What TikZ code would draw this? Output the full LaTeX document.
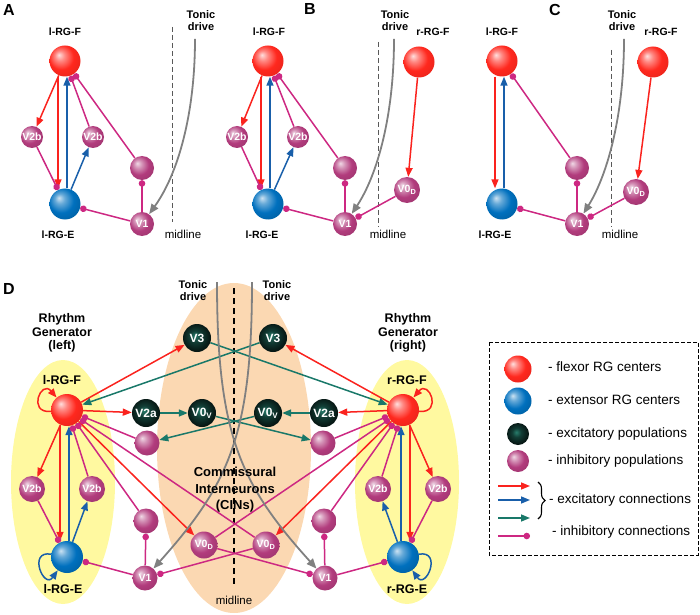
\documentclass[tikz,border=0pt]{standalone}
\usepackage{fontspec}
\setmainfont{Liberation Sans}
\usetikzlibrary{arrows.meta,decorations.pathreplacing}

\definecolor{exred}{RGB}{250,35,30}
\definecolor{exblue}{RGB}{25,95,170}
\definecolor{exgreen}{RGB}{25,120,105}
\definecolor{inhline}{RGB}{205,40,130}
\definecolor{tonicgray}{RGB}{128,128,128}
\definecolor{rgyellow}{RGB}{255,249,160}
\definecolor{cinbeige}{RGB}{251,216,178}
\definecolor{flexcol}{RGB}{255,40,30}
\definecolor{extcol}{RGB}{0,112,190}
\definecolor{inhcol}{RGB}{178,60,125}
\definecolor{exclight}{RGB}{40,125,108}
\definecolor{excmid}{RGB}{18,62,54}

\pgfdeclareradialshading{flexball}{\pgfpoint{-10bp}{10bp}}{color(0bp)=(flexcol!15!white); color(8bp)=(flexcol!55!white); color(20bp)=(flexcol); color(38bp)=(flexcol!88!black); color(50bp)=(flexcol!75!black)}
\pgfdeclareradialshading{extball}{\pgfpoint{-10bp}{10bp}}{color(0bp)=(extcol!20!white); color(8bp)=(extcol!60!white); color(20bp)=(extcol); color(38bp)=(extcol!80!black); color(50bp)=(extcol!65!black)}
\pgfdeclareradialshading{inhball}{\pgfpoint{-10bp}{10bp}}{color(0bp)=(inhcol!20!white); color(8bp)=(inhcol!55!white); color(20bp)=(inhcol); color(38bp)=(inhcol!85!black); color(50bp)=(inhcol!70!black)}
\pgfdeclareradialshading{excball}{\pgfpoint{-4bp}{4bp}}{color(0bp)=(exclight); color(10bp)=(excmid); color(24bp)=(excmid!40!black); color(50bp)=(black)}

\pgfdeclarelayer{background}
\pgfdeclarelayer{links}
\pgfsetlayers{background,links,main}

\begin{document}
\begin{tikzpicture}[x=1pt,y=1pt,>={Triangle[length=9pt,width=7pt]},
    cell/.style={circle,inner sep=0pt,minimum size=#1,text=white,font=\fontsize{10.5}{12}\selectfont\bfseries},
    flexor/.style={cell=31pt,shading=flexball},
    extensor/.style={cell=31pt,shading=extball},
    excpop/.style={cell=28pt,shading=excball},
    inhpop/.style={cell=24pt,shading=inhball},
    dcell/.style={font=\fontsize{12}{14}\selectfont\bfseries},
    exr/.style={->,draw=exred,line width=1.5pt},
    exb/.style={->,draw=exblue,line width=1.5pt},
    exg/.style={->,draw=exgreen,line width=1.5pt},
    inh/.style={-{Circle[length=6.5pt]},draw=inhline,line width=1.5pt},
    tonic/.style={-{Triangle[length=10pt,width=8pt]},draw=tonicgray,line width=1.8pt},
    lab/.style={font=\fontsize{10.5}{12}\selectfont\bfseries},
    dlab/.style={font=\fontsize{12.5}{13.5}\selectfont\bfseries,align=center},
    panel/.style={font=\fontsize{16}{18}\selectfont\bfseries},
    drive/.style={font=\fontsize{11}{12}\selectfont\bfseries,align=center},
    midtext/.style={font=\fontsize{11.5}{13}\selectfont},
    mid/.style={draw=black!65,line width=1pt,dash pattern=on 5pt off 3pt},
    legtext/.style={font=\fontsize{13.5}{15}\selectfont,anchor=west,inner sep=0pt}]

  \useasboundingbox (0,0) rectangle (700,614);

  % panel A
  \node[panel] (pA) at (9,604) {A};
  \node[flexor] (AF) at (65,553) {};
  \node[extensor] (AE) at (65,410) {};
  \node[inhpop,cell=22pt] (Ab1) at (32,477) {V2b};
  \node[inhpop,cell=22pt] (Ab2) at (93,477) {V2b};
  \node[inhpop] (Ai) at (142,446) {};
  \node[inhpop] (AV1) at (142,390) {V1};
  \node[lab] (AlF) at (65,582) {l-RG-F};
  \node[lab] (AlE) at (58,379) {l-RG-E};
  \node[drive] (Atd) at (201,593) {Tonic\\drive};
  \node[midtext] (Aml) at (183,380) {midline};
  \coordinate (Am0) at (172,587);
  \coordinate (Am1) at (172,392);
  \coordinate (At) at (195,575);

  % panel B
  \node[panel] (pB) at (310,605) {B};
  \node[flexor] (BF) at (268,553) {};
  \node[extensor] (BE) at (268,410) {};
  \node[inhpop,cell=22pt] (Bb1) at (237,477) {V2b};
  \node[inhpop,cell=22pt] (Bb2) at (298,477) {V2b};
  \node[inhpop] (Bi) at (345,446) {};
  \node[inhpop] (BV1) at (345,390) {V1};
  \node[flexor] (BrF) at (419,552) {};
  \node[inhpop,cell=26pt] (BV0) at (407,424) {V0\textsubscript{D}};
  \node[lab] (BlF) at (269,582) {l-RG-F};
  \node[lab] (BlE) at (262,379) {l-RG-E};
  \node[lab] (BrFl) at (433,582) {r-RG-F};
  \node[drive] (Btd) at (395,593) {Tonic\\drive};
  \node[midtext] (Bml) at (388,380) {midline};
  \coordinate (Bm0) at (378,572);
  \coordinate (Bm1) at (378,387);
  \coordinate (Bt) at (394,575);

  % panel C
  \node[panel] (pC) at (555,604) {C};
  \node[flexor] (CF) at (502,553) {};
  \node[extensor] (CE) at (502,410) {};
  \node[inhpop] (Ci) at (577,446) {};
  \node[inhpop] (CV1) at (577,390) {V1};
  \node[flexor] (CrF) at (653,552) {};
  \node[inhpop,cell=26pt] (CV0) at (636,422) {V0\textsubscript{D}};
  \node[lab] (ClF) at (502,582) {l-RG-F};
  \node[lab] (ClE) at (495,379) {l-RG-E};
  \node[lab] (CrFl) at (661,582) {r-RG-F};
  \node[drive] (Ctd) at (622,593) {Tonic\\drive};
  \node[midtext] (Cml) at (620,380) {midline};
  \coordinate (Cm0) at (611,564);
  \coordinate (Cm1) at (611,387);
  \coordinate (Ct) at (624,575);

  % panel D
  \node[panel] (pD) at (9,325) {D};
  \node[flexor,cell=32pt] (lF) at (67,204) {};
  \node[extensor,cell=32pt] (lE) at (67,57) {};
  \node[inhpop,dcell,cell=26pt] (lb1) at (32,125) {V2b};
  \node[inhpop,dcell,cell=26pt] (lb2) at (92,125) {V2b};
  \node[excpop,dcell] (lV3) at (197,276) {V3};
  \node[excpop,dcell] (lV2a) at (146,201) {V2a};
  \node[excpop,dcell] (lV0V) at (202,201) {V0\textsubscript{V}};
  \node[inhpop,cell=25pt] (lIni) at (147,171) {};
  \node[inhpop,cell=25pt] (lInl) at (146,93) {};
  \node[inhpop,dcell,cell=25pt] (lV1) at (145,36) {V1};
  \node[inhpop,dcell,cell=27pt] (lV0D) at (204,69) {V0\textsubscript{D}};

  \node[flexor,cell=32pt] (rF) at (403,204) {};
  \node[extensor,cell=32pt] (rE) at (403,57) {};
  \node[inhpop,dcell,cell=26pt] (rb1) at (438,125) {V2b};
  \node[inhpop,dcell,cell=26pt] (rb2) at (378,125) {V2b};
  \node[excpop,dcell] (rV3) at (273,276) {V3};
  \node[excpop,dcell] (rV2a) at (324,201) {V2a};
  \node[excpop,dcell] (rV0V) at (268,201) {V0\textsubscript{V}};
  \node[inhpop,cell=25pt] (rIni) at (323,171) {};
  \node[inhpop,cell=25pt] (rInl) at (324,93) {};
  \node[inhpop,dcell,cell=25pt] (rV1) at (325,36) {V1};
  \node[inhpop,dcell,cell=27pt] (rV0D) at (266,69) {V0\textsubscript{D}};

  \node[dlab] (rgl) at (62,281) {Rhythm\\Generator\\(left)};
  \node[dlab] (rgr) at (408,281) {Rhythm\\Generator\\(right)};
  \node[dlab] (DlF) at (62,234) {l-RG-F};
  \node[dlab] (DrF) at (407,234) {r-RG-F};
  \node[dlab] (DlE) at (63,25) {l-RG-E};
  \node[dlab] (DrE) at (407,25) {r-RG-E};
  \node[drive] (Dtl) at (193,323) {Tonic\\drive};
  \node[drive] (Dtr) at (277,323) {Tonic\\drive};
  \node[font=\fontsize{13}{16.5}\selectfont\bfseries,align=center] (cins) at (235,124) {Commissural\\Interneurons\\(CINs)};
  \node[midtext] (Dml) at (234,14) {midline};
  \coordinate (Dm0) at (234,326);
  \coordinate (Dm1) at (234,27);
  \coordinate (tl) at (217,332);
  \coordinate (tr) at (252,332);

  % legend
  \node[flexor,cell=27pt] (kF) at (518,245) {};
  \node[extensor,cell=27pt] (kE) at (518,213) {};
  \node[excpop,cell=22pt] (kX) at (518,180) {};
  \node[inhpop,cell=22pt] (kI) at (518,153) {};
  \node[legtext] (tF) at (548,247) {- flexor RG centers};
  \node[legtext] (tE) at (548,214) {- extensor RG centers};
  \node[legtext] (tX) at (548,180) {- excitatory populations};
  \node[legtext] (tI) at (548,153) {- inhibitory populations};
  \node[legtext] (tC) at (549,114) {- excitatory connections};
  \node[legtext] (tH) at (552,82) {- inhibitory connections};
  \coordinate (k1a) at (498,128); \coordinate (k1b) at (530,128);
  \coordinate (k2a) at (498,114); \coordinate (k2b) at (530,114);
  \coordinate (k3a) at (498,96);  \coordinate (k3b) at (530,96);
  \coordinate (k4a) at (498,78);  \coordinate (k4b) at (530,78);
  \coordinate (br0) at (538,132); \coordinate (br1) at (538,95);
  \coordinate (bx0) at (489,272); \coordinate (bx1) at (698,59);

  \begin{pgfonlayer}{background}
    \fill[rgyellow] (63,132) ellipse [x radius=52pt, y radius=122pt];
    \fill[rgyellow] (407,132) ellipse [x radius=52pt, y radius=122pt];
    \fill[cinbeige] (234,166) ellipse [x radius=77pt, y radius=165pt];
  \end{pgfonlayer}

  \begin{pgfonlayer}{links}
    \draw[mid] (Am0) -- (Am1);
    \draw[mid] (Bm0) -- (Bm1);
    \draw[mid] (Cm0) -- (Cm1);
    \draw[black,line width=1.2pt,dash pattern=on 6pt off 4pt] (Dm0) -- (Dm1);

    \path (AF) edge[exr] (Ab1);
    \path ([xshift=-7pt]AF.south) edge[exr] ([xshift=-7pt]AE.north);
    \path ([xshift=2pt]AE.north) edge[exb] ([xshift=2pt]AF.south);
    \path (AE) edge[exb] (Ab2);
    \path (Ab1) edge[inh] (AE);
    \path (Ab2) edge[inh] (AF);
    \path (Ai) edge[inh] (AF);
    \path (AV1) edge[inh] (Ai) edge[inh] (AE);
    \draw[tonic] (At) .. controls (195,500) and (178,440) .. (AV1);

    \path (BF) edge[exr] (Bb1);
    \path ([xshift=-7pt]BF.south) edge[exr] ([xshift=-7pt]BE.north);
    \path ([xshift=2pt]BE.north) edge[exb] ([xshift=2pt]BF.south);
    \path (BE) edge[exb] (Bb2);
    \path (Bb1) edge[inh] (BE);
    \path (Bb2) edge[inh] (BF);
    \path (Bi) edge[inh] (BF);
    \path (BV1) edge[inh] (Bi) edge[inh] (BE);
    \path (BrF) edge[exr] (BV0);
    \path (BV0) edge[inh] (BV1);
    \draw[tonic] (Bt) .. controls (394,500) and (378,440) .. (BV1);

    \path ([xshift=-7pt]CF.south) edge[exr] ([xshift=-7pt]CE.north);
    \path ([xshift=2pt]CE.north) edge[exb] ([xshift=2pt]CF.south);
    \path (Ci) edge[inh] (CF);
    \path (CV1) edge[inh] (Ci) edge[inh] (CE);
    \path (CrF) edge[exr] (CV0);
    \path (CV0) edge[inh] (CV1);
    \draw[tonic] (Ct) .. controls (624,500) and (608,440) .. (CV1);

    \path (lF) edge[exr] (lV3) edge[exr] (lV2a) edge[exr] (lb1) edge[exr] (lV0D);
    \path (lF) edge[exr,out=185,in=130,min distance=24pt] (lF);
    \path ([xshift=-7pt]lF.south) edge[exr] ([xshift=-7pt]lE.north);
    \path ([xshift=2pt]lE.north) edge[exb] ([xshift=2pt]lF.south);
    \path (lE) edge[exb] (lb2);
    \path (lE) edge[exb,out=170,in=235,min distance=24pt] (lE);
    \path (lV2a) edge[exg] (lV0V);
    \path (lV0V) edge[exg] (rIni);
    \path (lV3) edge[exg] (rF);
    \path (lb1) edge[inh] (lE);
    \path (lb2) edge[inh] (lF);
    \path (lIni) edge[inh] (lF);
    \path (lInl) edge[inh] (lF);
    \path (lV1) edge[inh] (lInl) edge[inh] (lE);
    \path (lV0D) edge[inh] (rF) edge[inh] (rV1);

    \path (rF) edge[exr] (rV3) edge[exr] (rV2a) edge[exr] (rb1) edge[exr] (rV0D);
    \path (rF) edge[exr,out=-5,in=50,min distance=24pt] (rF);
    \path ([xshift=7pt]rF.south) edge[exr] ([xshift=7pt]rE.north);
    \path ([xshift=-2pt]rE.north) edge[exb] ([xshift=-2pt]rF.south);
    \path (rE) edge[exb] (rb2);
    \path (rE) edge[exb,out=10,in=-55,min distance=24pt] (rE);
    \path (rV2a) edge[exg] (rV0V);
    \path (rV0V) edge[exg] (lIni);
    \path (rV3) edge[exg] (lF);
    \path (rb1) edge[inh] (rE);
    \path (rb2) edge[inh] (rF);
    \path (rIni) edge[inh] (rF);
    \path (rInl) edge[inh] (rF);
    \path (rV1) edge[inh] (rInl) edge[inh] (rE);
    \path (rV0D) edge[inh] (lF) edge[inh] (lV1);

    \draw[tonic] (tl) .. controls (217,180) and (240,130) .. (rV1);
    \draw[tonic] (tr) .. controls (252,180) and (229,130) .. (lV1);

    \draw[black,line width=1pt,dash pattern=on 4pt off 2pt] (bx0) rectangle (bx1);
    \path (k1a) edge[exr] (k1b);
    \path (k2a) edge[exb] (k2b);
    \path (k3a) edge[exg] (k3b);
    \path (k4a) edge[inh] (k4b);
    \draw[line width=1.1pt,decorate,decoration={brace,amplitude=7pt}] (br0) -- (br1);
  \end{pgfonlayer}

\end{tikzpicture}
\end{document}
